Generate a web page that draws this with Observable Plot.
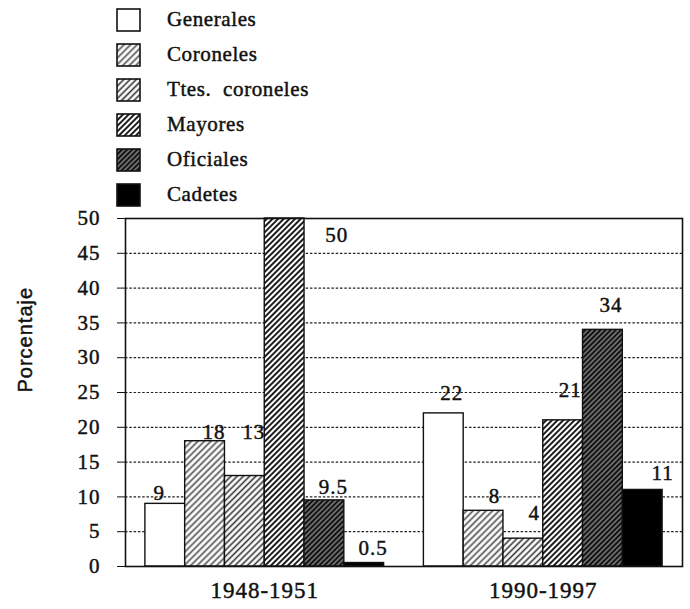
<!DOCTYPE html>
<html><head><meta charset="utf-8">
<script src="https://cdn.jsdelivr.net/npm/d3@7"></script>
<script src="https://cdn.jsdelivr.net/npm/@observablehq/plot@0.6"></script>
<style>
body{margin:0;background:#fff;width:690px;height:609px;overflow:hidden;font-family:"Liberation Serif",serif;color:#111}
#legend{position:relative;height:200px}
.row{position:absolute;left:116px;height:24px}
.row svg{position:absolute;left:0;top:0}
.row span{position:absolute;left:51px;top:-3px;font-size:21px;line-height:28px;letter-spacing:0.6px;white-space:pre;-webkit-text-stroke:0.45px #111}
#chart svg{display:block}
#chart svg text{stroke:#111;stroke-width:0.45px}
</style></head><body>
<svg width="0" height="0" style="position:absolute"><defs>
<pattern id="p-cor" patternUnits="userSpaceOnUse" width="4.6" height="4.6" patternTransform="rotate(45)">
<rect width="4.6" height="4.6" fill="#fff"/><line x1="2.3" y1="0" x2="2.3" y2="4.6" stroke="#555" stroke-width="1.7"/></pattern>
<pattern id="p-tte" patternUnits="userSpaceOnUse" width="4.4" height="4.4" patternTransform="rotate(45)">
<rect width="4.4" height="4.4" fill="#fff"/><line x1="2.2" y1="0" x2="2.2" y2="4.4" stroke="#333" stroke-width="1.6"/></pattern>
<pattern id="p-may" patternUnits="userSpaceOnUse" width="4" height="4" patternTransform="rotate(45)">
<rect width="4" height="4" fill="#fff"/><line x1="2" y1="0" x2="2" y2="4" stroke="#111" stroke-width="1.9"/></pattern>
<pattern id="p-ofi" patternUnits="userSpaceOnUse" width="3.6" height="3.6" patternTransform="rotate(45)">
<rect width="3.6" height="3.6" fill="#777"/><line x1="1.8" y1="0" x2="1.8" y2="3.6" stroke="#111" stroke-width="2"/></pattern>
</defs></svg>
<div id="legend"></div>
<div id="chart"></div>
<script>
// ---- data ----
const periods = ["1948-1951", "1990-1997"];
const categories = ["Generales", "Coroneles", "Ttes.  coroneles", "Mayores", "Oficiales", "Cadetes"];
const values1948 = [9, 18, 13, 50, 9.5, 0.5];
const values1990 = [22, 8, 4, 21, 34, 11];
const yTicks = [0, 5, 10, 15, 20, 25, 30, 35, 40, 45, 50];
const yLabel = "Porcentaje";

// ---- styling / layout ----
const fills = ["#fff", "url(#p-cor)", "url(#p-tte)", "url(#p-may)", "url(#p-ofi)", "#000"];
const labelDx = [[-6, 9, 9, 52, 9, 9], [8, 11, 11, 7, 8, 20]];
const labelDy = [[-11, -9, -44, 17, -13, -15], [-20, -15, -25, -30, -25, -17]];

const series = [values1948, values1990];
const rows = periods.flatMap((p, g) => categories.map((c, i) => ({
  period: p, category: c, value: series[g][i], slot: g * 7 + i + 0.5,
  fill: fills[i], dx: labelDx[g][i], dy: labelDy[g][i]
})));

// legend
const legend = document.getElementById("legend");
categories.forEach((c, i) => {
  const row = document.createElement("div");
  row.className = "row";
  row.style.top = (8 + i * 35) + "px";
  row.innerHTML = `<svg width="26" height="25"><rect x="1" y="1" width="23" height="22" fill="${fills[i]}" stroke="#111" stroke-width="1.6"/></svg><span>${c}</span>`;
  legend.appendChild(row);
});

const chart = Plot.plot({
  width: 690, height: 409,
  marginLeft: 125, marginRight: 8, marginTop: 18, marginBottom: 43,
  style: {fontFamily: "Liberation Serif, serif", fontSize: "21px", background: "white", color: "#111", letterSpacing: "1px"},
  x: {domain: [0, 14], axis: null},
  y: {domain: [0, 50], ticks: yTicks, tickSize: 8, tickPadding: 17, label: null},
  color: {type: "identity"},
  marks: [
    Plot.ruleY(yTicks.filter(v => v > 0 && v < 50), {stroke: "#222", strokeDasharray: "2.5,1.8", strokeWidth: 1.2}),
    Plot.rectY(rows, {x1: "slot", x2: d => d.slot + 1, y: "value", fill: "fill", stroke: "#111", strokeWidth: 1.4}),
    ...rows.map(d => Plot.text([d], {x: r => r.slot + 0.5, y: "value", text: r => String(r.value), dx: d.dx, dy: d.dy, fontSize: 21})),
    Plot.text(periods, {x: (d, i) => i * 7 + 3.5, frameAnchor: "bottom", dy: 31, fontSize: 23, text: d => d}),
    Plot.text([yLabel], {frameAnchor: "left", dx: -100, rotate: -90, fontFamily: "Liberation Sans, sans-serif", fontSize: 20, text: d => d}),
    Plot.frame({stroke: "#111", strokeWidth: 1.6})
  ]
});
document.getElementById("chart").appendChild(chart);
</script>
</body></html>
